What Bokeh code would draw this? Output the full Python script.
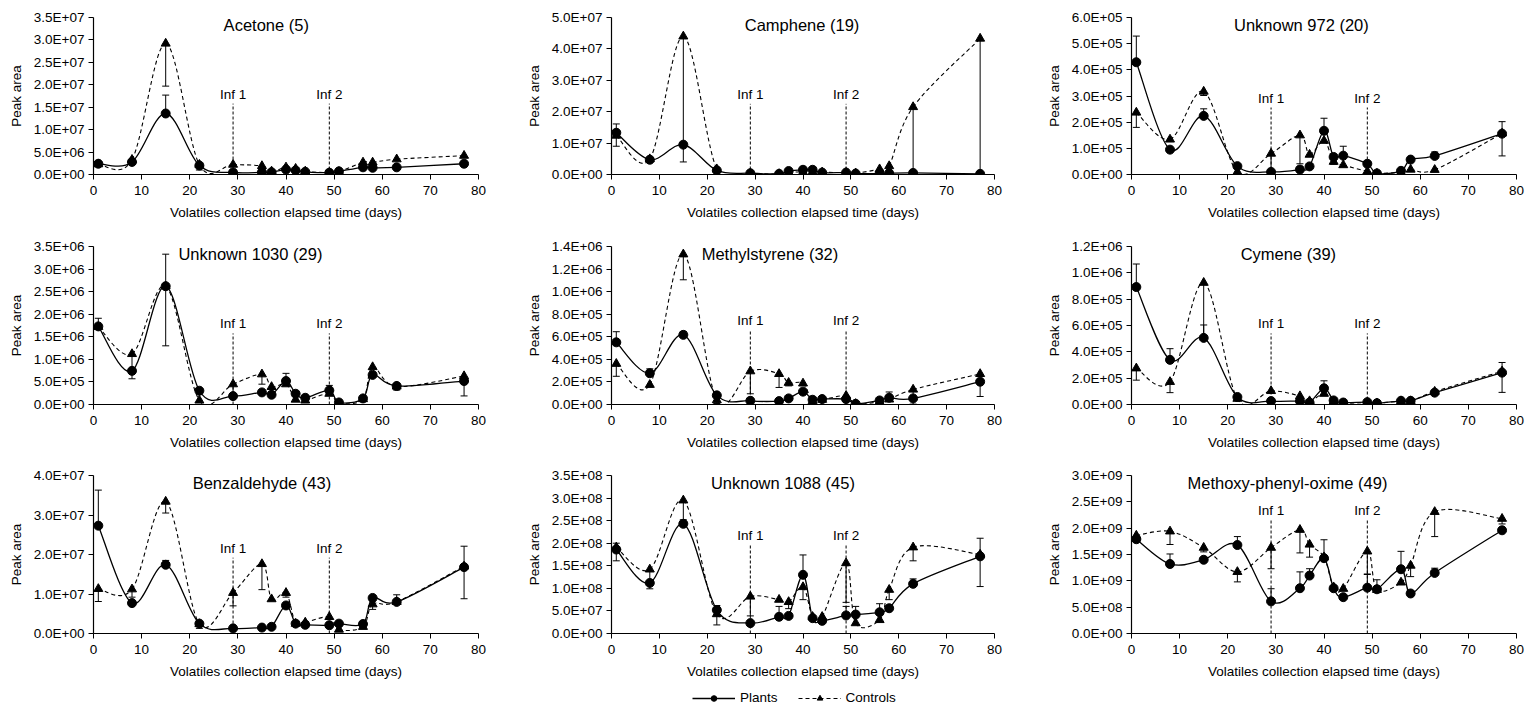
import numpy as np
from bokeh.plotting import figure
from bokeh.layouts import column, row
from bokeh.models import (ColumnDataSource, Whisker, TeeHead, FixedTicker,
                          CustomJSTickFormatter, Range1d, Legend, LegendItem)
from bokeh.core.properties import value
from bokeh.embed import file_html
from bokeh.resources import INLINE

# ---------------- data ----------------
DAYS = [1, 8, 15, 22, 29, 35, 37, 40, 42, 44, 49, 51, 56, 58, 63, 77]
X_TICKS = [0, 10, 20, 30, 40, 50, 60, 70, 80]
INF_DAYS = [29, 49]
INF_LABELS = ["Inf 1", "Inf 2"]

TITLES = ["Acetone (5)", "Camphene (19)", "Unknown 972 (20)",
          "Unknown 1030 (29)", "Methylstyrene (32)", "Cymene (39)",
          "Benzaldehyde (43)", "Unknown 1088 (45)", "Methoxy-phenyl-oxime (49)"]
Y_MAX = [3.5e7, 5.0e7, 6.0e5, 3.5e6, 1.4e6, 1.2e6, 4.0e7, 3.5e8, 3.0e9]
Y_STEP = [5.0e6, 1.0e7, 1.0e5, 5.0e5, 2.0e5, 2.0e5, 1.0e7, 5.0e7, 5.0e8]
INF_TOP = [1.58e7, 2.25e7, 2.56e5, 1.575e6, 6.56e5, 5.4e5, 1.92e7, 1.96e8, 2.16e9]

acetone_plants = [2.4e6, 2.8e6, 13.6e6, 2.0e6, 0.45e6, 0.5e6, 0.5e6, 1.1e6, 0.9e6, 0.6e6, 0.4e6, 0.7e6, 1.6e6, 1.5e6, 1.6e6, 2.4e6]
acetone_plants_err = [0.2e6, 0.3e6, 4.1e6, 0, 0, 0, 0, 0.3e6, 0, 0, 0, 0, 0, 0, 0, 0]
acetone_controls = [2.3e6, 3.3e6, 29.2e6, 2.2e6, 2.2e6, 1.9e6, 0.7e6, 1.6e6, 1.3e6, 0.7e6, 0.4e6, 0.6e6, 2.7e6, 2.7e6, 3.4e6, 4.2e6]
acetone_controls_err = [0, 0, 9.5e6, 1.2e6, 0, 0.5e6, 0, 0, 0, 0, 0, 0, 0, 0.5e6, 0, 0.3e6]

camphene_plants = [13.3e6, 4.7e6, 9.5e6, 1.3e6, 0.4e6, 0.2e6, 1.1e6, 1.5e6, 1.5e6, 0.6e6, 0.6e6, 0.3e6, 0.3e6, 0.4e6, 0.5e6, 0.2e6]
camphene_plants_err = [2.8e6, 0, 0, 0, 0, 0, 0, 0, 0, 0, 0, 0, 0, 0, 0, 0]
camphene_controls = [12.4e6, 4.9e6, 44.0e6, 1.7e6, 0.4e6, 0.2e6, 0.7e6, 0.8e6, 0.8e6, 0.7e6, 0.6e6, 0.4e6, 1.7e6, 2.7e6, 21.5e6, 43.3e6]
camphene_controls_err = [3.4e6, 0, 40.0e6, 0, 0, 0, 0, 0, 0, 0, 0, 0, 0, 0, 21.3e6, 43.1e6]

unk972_plants = [4.29e5, 0.95e5, 2.24e5, 0.32e5, 0.10e5, 0.19e5, 0.31e5, 1.67e5, 0.67e5, 0.72e5, 0.41e5, 0.04e5, 0.14e5, 0.57e5, 0.71e5, 1.56e5]
unk972_plants_err = [1.0e5, 0, 0.27e5, 0, 0, 0, 0, 0.48e5, 0.1e5, 0.36e5, 0, 0, 0, 0, 0.15e5, 0.46e5]
unk972_controls = [2.37e5, 1.34e5, 3.17e5, 0.10e5, 0.80e5, 1.50e5, 0.76e5, 1.29e5, 0.49e5, 0.36e5, 0.12e5, 0.04e5, 0.09e5, 0.19e5, 0.18e5, 1.57e5]
unk972_controls_err = [0.57e5, 0, 0.15e5, 0, 0.65e5, 1.09e5, 0, 0, 0.1e5, 0, 0, 0, 0, 0, 0, 0.86e5]

unk1030_plants = [1.73e6, 0.745e6, 2.62e6, 0.305e6, 0.186e6, 0.268e6, 0.216e6, 0.52e6, 0.238e6, 0.149e6, 0.313e6, 0.045e6, 0.134e6, 0.656e6, 0.41e6, 0.52e6]
unk1030_plants_err = [0.18e6, 0, 0.71e6, 0, 0, 0, 0, 0.17e6, 0, 0, 0.11e6, 0, 0, 0, 0.04e6, 0]
unk1030_controls = [1.72e6, 1.12e6, 2.62e6, 0.09e6, 0.45e6, 0.67e6, 0.39e6, 0.45e6, 0.11e6, 0.09e6, 0.24e6, 0.03e6, 0.12e6, 0.83e6, 0.40e6, 0.63e6]
unk1030_controls_err = [0, 0.55e6, 1.32e6, 0, 0.21e6, 0.22e6, 0.1e6, 0, 0, 0, 0, 0, 0, 0, 0.08e6, 0.44e6]

methylstyrene_plants = [5.51e5, 2.77e5, 6.17e5, 0.81e5, 0.33e5, 0.30e5, 0.54e5, 1.14e5, 0.42e5, 0.48e5, 0.48e5, 0.06e5, 0.36e5, 0.60e5, 0.54e5, 2.02e5]
methylstyrene_plants_err = [0.94e5, 0.39e5, 0.3e5, 0, 0, 0, 0, 0, 0, 0, 0, 0, 0, 0.51e5, 0, 0]
methylstyrene_controls = [3.61e5, 1.75e5, 13.31e5, 0.39e5, 2.95e5, 2.71e5, 1.93e5, 1.87e5, 0.30e5, 0.42e5, 0.78e5, 0.06e5, 0.24e5, 0.45e5, 1.33e5, 2.71e5]
methylstyrene_controls_err = [1.11e5, 0.2e5, 2.26e5, 0.3e5, 2.0e5, 1.2e5, 0.28e5, 0, 0, 0, 0, 0, 0, 0, 1.3e5, 2.0e5]

cymene_plants = [8.92e5, 3.39e5, 5.06e5, 0.57e5, 0.26e5, 0.26e5, 0.15e5, 1.23e5, 0.31e5, 0.15e5, 0.18e5, 0.10e5, 0.28e5, 0.28e5, 0.90e5, 2.42e5]
cymene_plants_err = [1.75e5, 0.85e5, 0.98e5, 0, 0, 0, 0, 0.57e5, 0, 0, 0, 0, 0, 0, 0, 0.77e5]
cymene_controls = [2.75e5, 1.72e5, 9.25e5, 0.44e5, 1.03e5, 0.64e5, 0.26e5, 0.82e5, 0.23e5, 0.10e5, 0.15e5, 0.10e5, 0.26e5, 0.26e5, 0.98e5, 2.52e5]
cymene_controls_err = [0.9e5, 0.82e5, 4.1e5, 0, 0, 0, 0, 0, 0, 0, 0, 0, 0, 0, 0, 1.6e5]

benzaldehyde_plants = [27.3e6, 7.7e6, 17.4e6, 2.5e6, 1.3e6, 1.5e6, 1.7e6, 7.1e6, 2.5e6, 2.2e6, 2.1e6, 2.5e6, 2.4e6, 9.0e6, 8.0e6, 16.8e6]
benzaldehyde_plants_err = [9.0e6, 0, 1.1e6, 0, 0, 0, 0, 0, 0, 0, 0, 0.6e6, 0, 0, 1.8e6, 5.3e6]
benzaldehyde_controls = [11.3e6, 11.2e6, 33.4e6, 2.4e6, 10.3e6, 17.6e6, 8.7e6, 10.3e6, 2.5e6, 2.8e6, 4.2e6, 1.0e6, 1.7e6, 7.4e6, 8.0e6, 17.0e6]
benzaldehyde_controls_err = [3.2e6, 2.0e6, 2.9e6, 1.1e6, 3.3e6, 6.5e6, 0, 1.1e6, 0, 0, 0, 0, 0, 1.3e6, 0, 8.2e6]

unk1088_plants = [1.86e8, 1.12e8, 2.43e8, 0.52e8, 0.23e8, 0.37e8, 0.39e8, 1.30e8, 0.34e8, 0.28e8, 0.40e8, 0.42e8, 0.47e8, 0.56e8, 1.10e8, 1.71e8]
unk1088_plants_err = [0.14e8, 0, 0.09e8, 0.1e8, 0, 0.23e8, 0, 0.44e8, 0, 0, 0.2e8, 0.18e8, 0.19e8, 0, 0.11e8, 0.4e8]
unk1088_controls = [1.91e8, 1.42e8, 2.95e8, 0.43e8, 0.82e8, 0.75e8, 0.70e8, 1.03e8, 0.37e8, 0.37e8, 1.56e8, 0.23e8, 0.30e8, 0.97e8, 1.91e8, 1.75e8]
unk1088_controls_err = [0.30e8, 0.43e8, 0.5e8, 0.24e8, 0.43e8, 0, 0.15e8, 0.28e8, 0, 0, 0.87e8, 0, 0, 0.22e8, 0.3e8, 0.71e8]

methoxy_plants = [1.79e9, 1.32e9, 1.40e9, 1.68e9, 0.61e9, 0.86e9, 1.10e9, 1.43e9, 0.86e9, 0.69e9, 0.87e9, 0.84e9, 1.22e9, 0.76e9, 1.15e9, 1.96e9]
methoxy_plants_err = [0.05e9, 0.19e9, 0, 0.16e9, 0.24e9, 0.31e9, 0.13e9, 0.35e9, 0, 0, 0.26e9, 0.18e9, 0.34e9, 0, 0.09e9, 0]
methoxy_controls = [1.86e9, 1.94e9, 1.63e9, 1.17e9, 1.63e9, 1.97e9, 1.69e9, 1.45e9, 0.88e9, 0.85e9, 1.56e9, 0.83e9, 0.97e9, 1.29e9, 2.31e9, 2.18e9]
methoxy_controls_err = [0, 0.25e9, 0.08e9, 0.19e9, 0.4e9, 0.44e9, 0.24e9, 0, 0, 0, 0.44e9, 0, 0, 0.21e9, 0.47e9, 0.1e9]

SERIES = [
    (acetone_plants, acetone_plants_err, acetone_controls, acetone_controls_err),
    (camphene_plants, camphene_plants_err, camphene_controls, camphene_controls_err),
    (unk972_plants, unk972_plants_err, unk972_controls, unk972_controls_err),
    (unk1030_plants, unk1030_plants_err, unk1030_controls, unk1030_controls_err),
    (methylstyrene_plants, methylstyrene_plants_err, methylstyrene_controls, methylstyrene_controls_err),
    (cymene_plants, cymene_plants_err, cymene_controls, cymene_controls_err),
    (benzaldehyde_plants, benzaldehyde_plants_err, benzaldehyde_controls, benzaldehyde_controls_err),
    (unk1088_plants, unk1088_plants_err, unk1088_controls, unk1088_controls_err),
    (methoxy_plants, methoxy_plants_err, methoxy_controls, methoxy_controls_err),
]
LEGEND_LABELS = ["Plants", "Controls"]

# ---------------- layout / style ----------------
FONT = "Liberation Sans"
TITLE_X = [35.9, 39.8, 35.3, 32.6, 33.1, 32.6, 35.0, 35.8, 32.4]
COL_W = [508, 508, 509]
COL_LB = [93, 103, 115]
COL_RB = [30, 22, 9]
ROW_H = [230, 230, 225]
ROW_TB = [17, 16, 15]
ROW_BB = [56, 56, 52]
LEG_H = 20
TICK_FS = "13.5px"
LABEL_FS = "13.5px"

FMT = CustomJSTickFormatter(code="""
const s = tick.toExponential(1).toUpperCase();
const parts = s.split("E");
const sign = parts[1][0];
const d = parts[1].slice(1).padStart(2, "0");
return parts[0] + "E" + sign + d;
""")


def smooth_segments(xs, ys):
    """Cubic Bezier pieces (Catmull-Rom style, as in spreadsheet smoothed lines)."""
    n = len(xs)
    out = dict(x0=[], y0=[], x1=[], y1=[], cx0=[], cy0=[], cx1=[], cy1=[])
    for i in range(n - 1):
        a = max(i - 1, 0)
        b = min(i + 2, n - 1)
        out["x0"].append(xs[i]); out["y0"].append(ys[i])
        out["x1"].append(xs[i + 1]); out["y1"].append(ys[i + 1])
        out["cx0"].append(xs[i] + (xs[i + 1] - xs[a]) / 6.0)
        out["cy0"].append(ys[i] + (ys[i + 1] - ys[a]) / 6.0)
        out["cx1"].append(xs[i + 1] - (xs[b] - xs[i]) / 6.0)
        out["cy1"].append(ys[i + 1] - (ys[b] - ys[i]) / 6.0)
    return out


def make_panel(k):
    r, c = divmod(k, 3)
    plants, perr, controls, cerr = SERIES[k]
    ymax = Y_MAX[k]
    p = figure(width=COL_W[c], height=ROW_H[r],
               x_range=Range1d(0, 80), y_range=Range1d(0, ymax),
               toolbar_location=None, output_backend="svg",
               min_border_left=COL_LB[c], min_border_right=COL_RB[c],
               min_border_top=ROW_TB[r], min_border_bottom=ROW_BB[r])
    p.outline_line_color = None
    p.grid.visible = False
    p.background_fill_color = None
    p.border_fill_color = None

    p.xaxis.ticker = FixedTicker(ticks=X_TICKS)
    nt = int(round(ymax / Y_STEP[k]))
    p.yaxis.ticker = FixedTicker(ticks=[j * Y_STEP[k] for j in range(nt + 1)])
    p.yaxis.formatter = FMT
    for ax in (p.xaxis[0], p.yaxis[0]):
        ax.axis_line_color = "black"
        ax.axis_line_width = 1.2
        ax.major_tick_line_color = "black"
        ax.major_tick_out = 5
        ax.major_tick_in = 0
        ax.minor_tick_line_color = None
        ax.major_label_text_font = FONT
        ax.major_label_text_font_size = TICK_FS
        ax.major_label_text_color = "black"
        ax.axis_label_text_font = FONT
        ax.axis_label_text_font_size = LABEL_FS
        ax.axis_label_text_font_style = "normal"
        ax.axis_label_text_color = "black"
    p.xaxis.axis_label = "Volatiles collection elapsed time (days)"
    p.xaxis.major_label_standoff = 6
    p.xaxis.axis_label_standoff = 7
    p.yaxis.axis_label = "Peak area"
    p.yaxis.major_label_standoff = 4
    p.yaxis.axis_label_standoff = 7

    # infection markers
    p.segment(x0=INF_DAYS, y0=[0, 0], x1=INF_DAYS, y1=[INF_TOP[k]] * 2,
              line_color="black", line_width=1, line_dash="3 2")
    p.text(x=INF_DAYS, y=[INF_TOP[k]] * 2, text=INF_LABELS,
           text_align="center", text_baseline="bottom", y_offset=-2,
           text_font=value(FONT), text_font_size="13.5px", text_color="black")

    # title inside plot
    p.text(x=[TITLE_X[k]], y=[ymax * 0.955], text=[TITLES[k]],
           text_align="center", text_baseline="middle",
           text_font=value(FONT), text_font_size="16.5px", text_color="black")

    # error bars: controls downward, plants upward
    cb = [d for d, e in zip(DAYS, cerr) if e > 0]
    cv = [v for v, e in zip(controls, cerr) if e > 0]
    ce = [e for e in cerr if e > 0]
    csrc = ColumnDataSource(dict(base=cb, upper=cv, lower=[v - e for v, e in zip(cv, ce)]))
    p.add_layout(Whisker(source=csrc, base="base", upper="upper", lower="lower",
                         dimension="height", line_color="black", line_width=1,
                         upper_head=None,
                         lower_head=TeeHead(size=7, line_color="black", line_width=1)))
    pb = [d for d, e in zip(DAYS, perr) if e > 0]
    pv = [v for v, e in zip(plants, perr) if e > 0]
    pe = [e for e in perr if e > 0]
    psrc = ColumnDataSource(dict(base=pb, lower=pv, upper=[v + e for v, e in zip(pv, pe)]))
    p.add_layout(Whisker(source=psrc, base="base", upper="upper", lower="lower",
                         dimension="height", line_color="black", line_width=1,
                         lower_head=None,
                         upper_head=TeeHead(size=7, line_color="black", line_width=1)))

    # smoothed lines
    cs = smooth_segments(DAYS, controls)
    p.bezier(source=ColumnDataSource(cs), x0="x0", y0="y0", x1="x1", y1="y1",
             cx0="cx0", cy0="cy0", cx1="cx1", cy1="cy1",
             line_color="black", line_width=1.1, line_dash="4 3")
    ps = smooth_segments(DAYS, plants)
    p.bezier(source=ColumnDataSource(ps), x0="x0", y0="y0", x1="x1", y1="y1",
             cx0="cx0", cy0="cy0", cx1="cx1", cy1="cy1",
             line_color="black", line_width=1.3)

    p.scatter(DAYS, controls, marker="triangle", size=9,
              fill_color="black", line_color="black")
    p.scatter(DAYS, plants, marker="circle", size=9,
              fill_color="black", line_color="black")
    return p


panels = [make_panel(k) for k in range(9)]

# legend strip (renderers hold points outside the visible range so only the legend shows)
lf = figure(width=sum(COL_W), height=LEG_H, toolbar_location=None, output_backend="svg",
            x_axis_location=None, y_axis_location=None, min_border=0,
            x_range=Range1d(0, 1), y_range=Range1d(0, 1))
lf.outline_line_color = None
lf.grid.visible = False
OFF = [-5, -4]
r_pl = lf.line(OFF, OFF, line_color="black", line_width=1.3)
r_ps = lf.scatter(OFF, OFF, marker="circle", size=9, fill_color="black", line_color="black")
r_cl = lf.line(OFF, OFF, line_color="black", line_width=1.1, line_dash="4 3")
r_cs = lf.scatter(OFF, OFF, marker="triangle", size=9, fill_color="black", line_color="black")
legend = Legend(items=[LegendItem(label=LEGEND_LABELS[0], renderers=[r_pl, r_ps]),
                       LegendItem(label=LEGEND_LABELS[1], renderers=[r_cl, r_cs])],
                orientation="horizontal", location=(692, 0),
                glyph_width=43, glyph_height=14, label_height=14,
                label_standoff=5, spacing=20, padding=0, margin=0,
                border_line_color=None, background_fill_alpha=0,
                label_text_font=FONT, label_text_font_size="13.5px",
                label_text_color="black")
lf.add_layout(legend, "center")

layout = column(row(*panels[0:3]), row(*panels[3:6]), row(*panels[6:9]), lf)

open("out.html", "w").write(file_html(layout, INLINE))
